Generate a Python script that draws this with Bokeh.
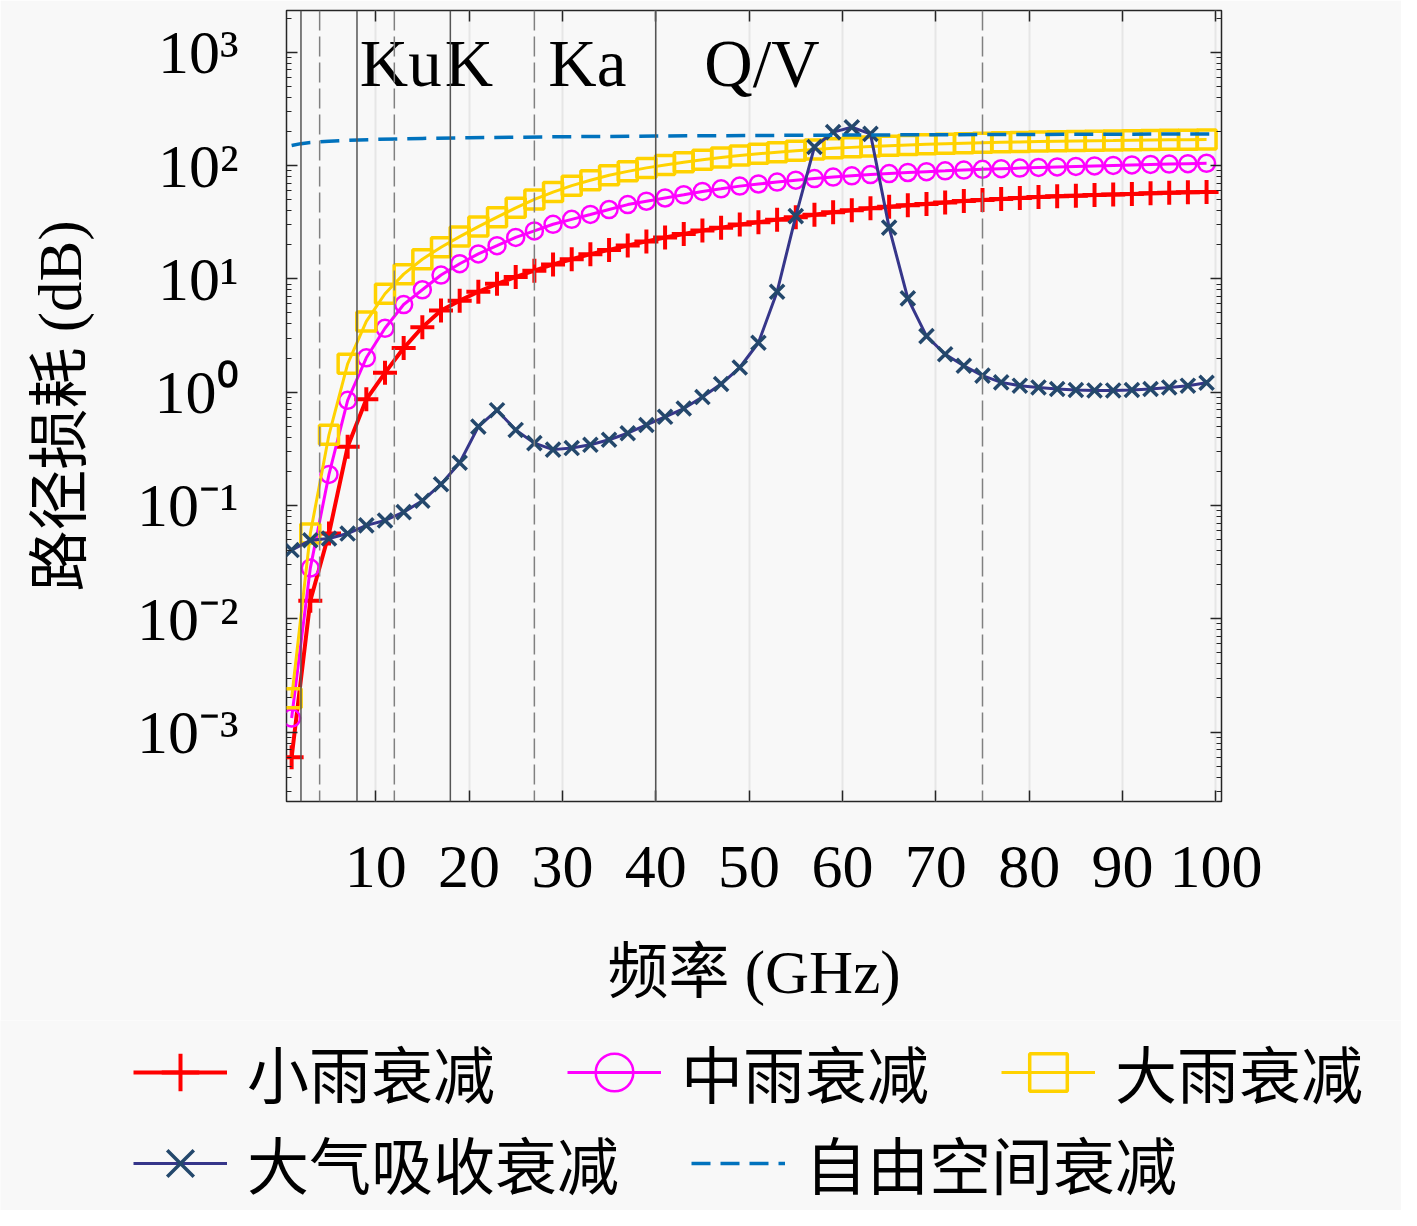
from bokeh.plotting import figure
from bokeh.layouts import column
from bokeh.models import Range1d, FixedTicker, LinearAxis, LogAxis, Span, Legend, LegendItem
from bokeh.core.properties import value
from bokeh.embed import file_html
from bokeh.resources import INLINE

# ---------------- data ----------------
freq = [1, 3, 5, 7, 9, 11, 13, 15, 17, 19, 21, 23, 25, 27, 29, 31, 33, 35, 37, 39,
        41, 43, 45, 47, 49, 51, 53, 55, 57, 59, 61, 63, 65, 67, 69, 71, 73, 75, 77, 79,
        81, 83, 85, 87, 89, 91, 93, 95, 97, 99]

light_rain = [0.0006, 0.0144, 0.0565, 0.330, 0.864, 1.48, 2.45, 3.74, 5.25, 6.42,
              7.69, 9.03, 10.4, 11.8, 13.4, 14.9, 16.5, 18.0, 19.7, 21.4,
              23.2, 24.9, 26.7, 28.3, 30.1, 31.6, 33.3, 35.0, 36.8, 38.7,
              40.2, 41.9, 43.2, 44.5, 45.8, 47.2, 48.7, 49.7, 50.7, 51.7,
              52.7, 53.5, 54.2, 54.9, 55.6, 56.2, 56.8, 57.4, 58.0, 58.5]

moderate_rain = [0.00133, 0.0280, 0.188, 0.847, 2.01, 3.66, 5.93, 8.01, 10.8, 13.6,
                 16.6, 19.6, 23.2, 26.5, 30.3, 33.5, 37.0, 40.9, 45.2, 48.4,
                 51.7, 55.2, 59.1, 62.3, 65.8, 68.7, 71.5, 74.2, 76.7, 79.1,
                 81.2, 83.2, 85.0, 86.8, 88.3, 89.7, 91.2, 92.5, 93.8, 94.9,
                 96.1, 97.2, 98.2, 99.2, 100.2, 101.2, 102.2, 103.1, 103.9, 104.7]

heavy_rain = [0.00199, 0.0565, 0.420, 1.78, 4.21, 7.39, 11.0, 14.9, 19.0, 23.6,
              28.9, 35.0, 42.3, 50.2, 58.3, 66.4, 74.2, 82.0, 88.8, 95.3,
              101.2, 106.8, 112.3, 117.7, 122.5, 126.9, 131.1, 134.8, 138.4, 141.8,
              144.6, 147.3, 149.6, 151.8, 153.9, 155.8, 157.4, 158.9, 160.2, 161.5,
              162.8, 163.8, 164.8, 165.8, 166.4, 167.1, 167.8, 168.5, 169.2, 169.8]

atmos = [0.0404, 0.0493, 0.0511, 0.0565, 0.0667, 0.0737, 0.0873, 0.110, 0.154, 0.238,
         0.496, 0.693, 0.464, 0.355, 0.311, 0.321, 0.343, 0.380, 0.434, 0.513,
         0.606, 0.717, 0.905, 1.18, 1.65, 2.73, 7.69, 35.8, 145.8, 197.0,
         217.8, 190.4, 28.3, 6.72, 3.12, 2.16, 1.71, 1.40, 1.22, 1.14,
         1.10, 1.066, 1.045, 1.035, 1.035, 1.045, 1.066, 1.10, 1.14, 1.21]

fs_freq = [1, 2, 3, 5, 7, 10, 15, 20, 30, 40, 50, 60, 70, 80, 90, 100]
fs_loss = [150, 156, 159.5, 164, 167, 170, 173.5, 176, 179.5, 182, 184, 185.5, 187, 188, 189, 190]

x_ticks = [10, 20, 30, 40, 50, 60, 70, 80, 90, 100]
y_ticks = [1e-3, 1e-2, 1e-1, 1e0, 1e1, 1e2, 1e3]
y_tick_labels = ["10⁻³", "10⁻²", "10⁻¹", "10⁰", "10¹", "10²", "10³"]

band_names = ["Ku", "K", "Ka", "Q/V"]
band_label_x = [8.3, 17.4, 28.5, 45.2]
band_label_y = [796, 796, 796, 796]
solid_edges = [2, 8, 18, 40]
dashed_edges = [4, 12, 27, 75]

names_row1 = ["小雨衰减", "中雨衰减", "大雨衰减"]
names_row2 = ["大气吸收衰减", "自由空间衰减"]

# ---------------- styles ----------------
BG = "#f8f8f8"
SERIF = "Liberation Serif"
CJK = "Noto Sans CJK SC"
MIXED = "Liberation Serif, Noto Sans CJK SC"
RED, MAG, GOLD = "#ff0000", "#ff00ff", "#ffd200"
NAVY_L, NAVY_M, BLUE = "#36368a", "#24486c", "#0072bd"

S_RED_L = dict(line_color=RED, line_width=4)
S_RED_M = dict(marker="cross", size=24, line_color=RED, line_width=4)
S_MAG_L = dict(line_color=MAG, line_width=3)
S_MAG_M = dict(marker="circle", size=17, fill_color=None, line_color=MAG, line_width=2.5)
S_GLD_L = dict(line_color=GOLD, line_width=3)
S_GLD_M = dict(marker="square", size=19, fill_color=None, line_color=GOLD, line_width=3.5)
S_NAV_L = dict(line_color=NAVY_L, line_width=3)
S_NAV_M = dict(marker="x", size=20, line_color=NAVY_M, line_width=3.5)
S_FS_L = dict(line_color=BLUE, line_width=3.5, line_dash="19 10")

# ---------------- main figure ----------------
p = figure(width=1401, height=1020,
           x_range=Range1d(0.45, 100.6), y_range=Range1d(2.44e-4, 2334),
           y_axis_type="log", output_backend="svg", toolbar_location=None,
           min_border_left=286, min_border_right=180, min_border_top=10, min_border_bottom=219,
           background_fill_color=BG, border_fill_color=BG)
p.outline_line_color = "#262626"
p.outline_line_width = 1.5

minor = [m * 10.0 ** e for e in range(-4, 4) for m in range(2, 10)]

xa = p.xaxis[0]
xa.ticker = FixedTicker(ticks=x_ticks)
ya = p.yaxis[0]
ya.ticker = FixedTicker(ticks=y_ticks, minor_ticks=minor)
ya.major_label_overrides = {t: lab for t, lab in zip(y_ticks, y_tick_labels)}

for ax in (xa, ya):
    ax.axis_line_color = None
    ax.major_tick_in = 11
    ax.major_tick_out = 0
    ax.major_tick_line_color = "#262626"
    ax.major_tick_line_width = 1.5
    ax.minor_tick_in = 5
    ax.minor_tick_out = 0
    ax.minor_tick_line_color = "#262626"
    ax.major_label_text_font = SERIF
    ax.major_label_text_font_size = "62px"
    ax.major_label_text_color = "black"
    ax.axis_label_text_font = MIXED
    ax.axis_label_text_font_style = "normal"
    ax.axis_label_text_font_size = "61px"
    ax.axis_label_text_color = "black"
xa.minor_tick_line_color = None
xa.major_label_standoff = 45
xa.axis_label = "频率 (GHz)"
xa.axis_label_standoff = 49
ya.major_label_standoff = 48
ya.axis_label = "路径损耗 (dB)"
ya.axis_label_standoff = 40

top = LinearAxis(ticker=FixedTicker(ticks=x_ticks), major_label_text_font_size="1px",
                 major_label_text_color=None, major_label_standoff=0, axis_line_color=None,
                 major_tick_in=11, major_tick_out=0,
                 major_tick_line_color="#262626", major_tick_line_width=1.5, minor_tick_line_color=None)
right = LogAxis(ticker=FixedTicker(ticks=y_ticks, minor_ticks=minor), major_label_text_font_size="1px",
                major_label_text_color=None, major_label_standoff=0, axis_line_color=None,
                major_tick_in=11, major_tick_out=0,
                major_tick_line_color="#262626", major_tick_line_width=1.5,
                minor_tick_in=5, minor_tick_out=0, minor_tick_line_color="#262626")
p.add_layout(top, "above")
p.add_layout(right, "right")

p.xgrid.ticker = FixedTicker(ticks=x_ticks)
p.xgrid.grid_line_color = "#e6e6e6"
p.xgrid.grid_line_width = 2
p.ygrid.grid_line_color = None

for e in solid_edges:
    p.add_layout(Span(location=e, dimension="height", line_color="#555555", line_width=1.5))
for e in dashed_edges:
    p.add_layout(Span(location=e, dimension="height", line_color="#808080", line_width=1.5,
                      line_dash="20 6"))

p.text(x=band_label_x, y=band_label_y, text=band_names, text_font=value(SERIF),
       text_font_size="67px", text_color="black", text_align="left", text_baseline="alphabetic")

p.line(freq, light_rain, **S_RED_L)
p.scatter(freq, light_rain, **S_RED_M)
p.line(freq, moderate_rain, **S_MAG_L)
p.scatter(freq, moderate_rain, **S_MAG_M)
p.line(freq, heavy_rain, **S_GLD_L)
p.scatter(freq, heavy_rain, **S_GLD_M)
p.line(freq, atmos, **S_NAV_L)
p.scatter(freq, atmos, **S_NAV_M)
p.line(fs_freq, fs_loss, **S_FS_L)

# ---------------- legend strip (below the axes) ----------------
# its ranges lie away from the data, so only the legend samples are visible
lf = figure(width=1401, height=190, x_range=Range1d(-2, -1), y_range=Range1d(-2, -1),
            x_axis_type=None, y_axis_type=None, output_backend="svg", toolbar_location=None,
            min_border=0, background_fill_color=BG, border_fill_color=BG)
lf.frame_align = False
lf.outline_line_color = None
lf.xgrid.visible = False
lf.ygrid.visible = False

k1l = lf.line(freq, light_rain, **S_RED_L)
k1m = lf.scatter(freq, light_rain, **S_RED_M)
k2l = lf.line(freq, moderate_rain, **S_MAG_L)
k2m = lf.scatter(freq, moderate_rain, **S_MAG_M)
k3l = lf.line(freq, heavy_rain, **S_GLD_L)
k3m = lf.scatter(freq, heavy_rain, **S_GLD_M)
k4l = lf.line(freq, atmos, **S_NAV_L)
k4m = lf.scatter(freq, atmos, **S_NAV_M)
k5l = lf.line(fs_freq, fs_loss, **S_FS_L)

common = dict(glyph_width=94, glyph_height=94, label_height=94, label_standoff=20,
              padding=0, margin=0, spacing=72, border_line_color=None, background_fill_alpha=0,
              label_text_font=CJK, label_text_font_size="62px", label_text_color="black",
              orientation="horizontal")
leg1 = Legend(items=[LegendItem(label=names_row1[0], renderers=[k1l, k1m]),
                     LegendItem(label=names_row1[1], renderers=[k2l, k2m]),
                     LegendItem(label=names_row1[2], renderers=[k3l, k3m])],
              location=(133, 91), **common)
leg2 = Legend(items=[LegendItem(label=names_row2[0], renderers=[k4l, k4m]),
                     LegendItem(label=names_row2[1], renderers=[k5l])],
              location=(133, 0), **common)
lf.add_layout(leg1, "center")
lf.add_layout(leg2, "center")

layout = column(p, lf, spacing=0)
open("out.html", "w").write(file_html(layout, INLINE))
